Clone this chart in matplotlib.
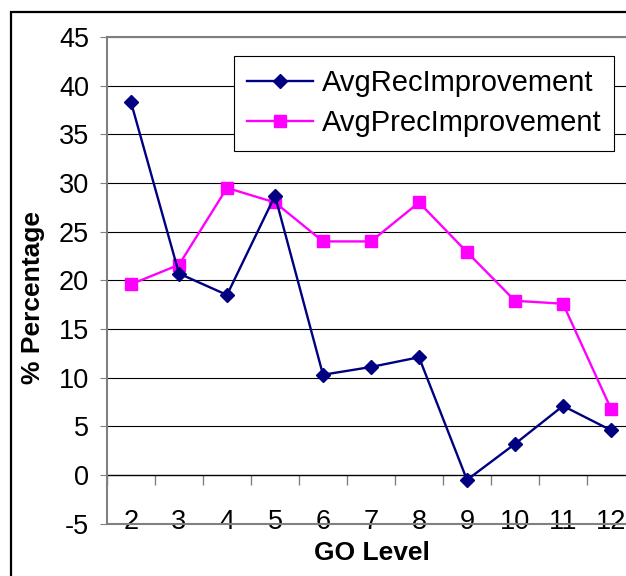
import matplotlib.pyplot as plt
from matplotlib.patches import Rectangle

plt.rcParams['font.family'] = ['Liberation Sans', 'DejaVu Sans']
plt.rcParams['axes.unicode_minus'] = False

go_levels = [2, 3, 4, 5, 6, 7, 8, 9, 10, 11, 12]
avg_rec = [38.3, 20.7, 18.5, 28.7, 10.3, 11.1, 12.1, -0.5, 3.2, 7.1, 4.6]
avg_prec = [19.6, 21.6, 29.5, 28.0, 24.0, 24.0, 28.0, 22.9, 17.9, 17.6, 6.8]

W, H = 626, 576
fig = plt.figure(figsize=(W / 100, H / 100), dpi=100)
ax = fig.add_axes([107 / W, 1 - 523.7 / H, 528 / W, 486.7 / H])

# outer chart border
fig.patches.append(Rectangle((11 / W, -0.1), 1.2, 1 - 12 / H + 0.1,
                             transform=fig.transFigure, fill=False,
                             lw=1.6, ec='black'))

ax.plot(go_levels, avg_rec, color='#000080', lw=1.7, marker='D', ms=7.6,
        label='AvgRecImprovement', zorder=5)
ax.plot(go_levels, avg_prec, color='#FF00FF', lw=1.7, marker='s', ms=9.2,
        label='AvgPrecImprovement', zorder=4)

ax.set_xlim(1.5, 12.5)
ax.set_ylim(-5, 45)
ax.set_yticks(range(-5, 50, 5))
ax.set_xticks(go_levels)
ax.tick_params(axis='y', labelsize=19.5, length=5, color='#808080', pad=8)
ax.tick_params(axis='x', labelsize=19.5, length=0, pad=-10.5)
ax.yaxis.grid(True, color='black', lw=0.8)

for s in ['left', 'bottom', 'top']:
    ax.spines[s].set_color('#808080')
    ax.spines[s].set_linewidth(1.5)
ax.spines['right'].set_visible(False)

# category axis crossing at zero, tick marks between categories
sec = ax.secondary_xaxis(0.1)
sec.set_xticks([x + 0.5 for x in [1] + go_levels])
sec.set_xticklabels([])
sec.tick_params(length=7, color='#808080', width=1)
sec.spines['bottom'].set_color('#404040')
sec.spines['bottom'].set_linewidth(1)

fig.text(33 / W, 1 - 297 / H, '% Percentage', rotation=90, ha='center',
         va='center', fontsize=19, fontweight='bold')
fig.text(372 / W, 1 - 553 / H, 'GO Level', ha='center', va='center',
         fontsize=19, fontweight='bold')

leg = ax.legend(loc='upper left', bbox_to_anchor=(234 / W, 1 - 56 / H),
                bbox_transform=fig.transFigure, borderaxespad=0,
                fontsize=21, fancybox=False, framealpha=1, edgecolor='black',
                handlelength=2.25, handletextpad=0.3, borderpad=0.45,
                labelspacing=0.42)
leg.get_frame().set_linewidth(0.8)

fig.savefig('out.png', dpi=100)
